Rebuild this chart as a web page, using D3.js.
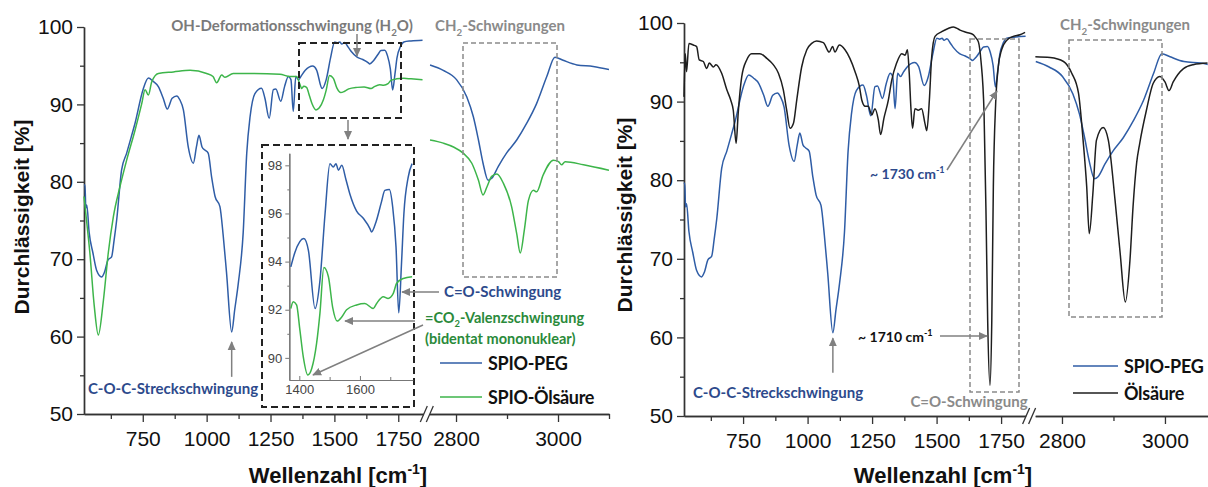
<!DOCTYPE html>
<html>
<head>
<meta charset="utf-8">
<script src="https://cdn.jsdelivr.net/npm/d3@7"></script>
<style>
  body { margin: 0; background: #fff; }
  svg { display: block; }
</style>
</head>
<body>
<svg id="chart" width="1208" height="487"></svg>
<script>
// --- data: [wavenumber cm-1, transmission %] ---
var spioPeg = [
  [520,79.6],[524,79.6],[527,76.6],[531,77.0],[540,73.5],[555,70.8],[570,68.5],[589,67.7],[600,68.3],
  [614,69.9],[628,70.3],[638,72.5],[648,75.1],[667,81.5],[687,83.7],[705,85.8],[720,87.6],[751,91.9],
  [772,93.4],[790,93.0],[811,92.3],[830,90.8],[846,89.4],[865,90.8],[883,91.1],[895,90.6],[909,89.3],
  [928,84.5],[948,82.4],[960,84.5],[970,86.0],[982,84.5],[993,84.1],[1006,83.7],[1020,80.5],[1033,78.1],
  [1052,76.8],[1065,73.0],[1078,68.2],[1098,60.6],[1110,63.5],[1124,66.9],[1143,73.4],[1157,83.7],
  [1170,88.4],[1189,91.4],[1215,92.1],[1228,90.8],[1245,88.2],[1261,91.9],[1271,92.0],[1290,90.4],
  [1305,92.3],[1320,93.6],[1330,93.2],[1339,89.1],[1349,93.6],[1360,93.2],[1372,93.78],[1386,94.4],
  [1415,94.96],[1430,94.47],[1452,92.05],[1468,93.2],[1485,96.0],[1501,98.07],[1512,97.93],[1521,98.07],
  [1529,97.8],[1540,98.0],[1554,97.4],[1567,96.8],[1589,96.1],[1611,95.8],[1633,95.37],[1638,95.23],
  [1653,95.65],[1671,96.48],[1682,96.96],[1697,97.0],[1708,96.27],[1719,94.6],[1728,91.87],[1737,93.9],
  [1745,96.0],[1759,97.5],[1772,98.07],[1800,98.2],[1845,98.3],
  [2749,95.1],[2775,94.4],[2801,93.2],[2821,91.0],[2834,88.4],[2844,85.4],[2853,82.4],[2863,80.2],
  [2870,80.45],[2883,82.0],[2899,83.7],[2919,85.4],[2939,87.6],[2958,90.1],[2978,93.6],[2994,96.1],
  [3010,95.7],[3037,95.1],[3069,94.9],[3100,94.5]
];

var spioOelsaeure = [
  [520,78.1],[530,75.0],[543,70.8],[560,64.0],[576,60.2],[596,64.7],[615,70.8],[635,75.5],[661,79.4],
  [687,82.8],[720,86.7],[746,90.1],[759,91.9],[772,91.2],[785,92.9],[811,94.0],[870,94.2],[935,94.4],
  [1000,94.0],[1025,93.6],[1039,92.8],[1059,93.8],[1072,93.5],[1104,94.0],[1183,94.0],[1287,93.9],
  [1326,93.6],[1352,93.6],[1365,92.6],[1372,92.05],[1380,92.33],[1391,92.2],[1402,91.15],[1413,90.05],
  [1428,89.29],[1441,89.56],[1457,90.6],[1468,91.85],[1481,93.75],[1496,93.37],[1510,92.1],[1525,91.53],
  [1540,91.7],[1556,92.0],[1589,92.2],[1616,92.26],[1644,92.05],[1655,92.26],[1677,92.54],[1693,92.47],
  [1710,92.68],[1721,93.1],[1743,93.3],[1772,93.37],[1800,93.3],[1845,93.2],
  [2749,85.4],[2775,85.0],[2795,84.5],[2814,83.7],[2831,82.4],[2844,80.2],[2853,78.3],[2861,79.4],
  [2870,80.7],[2880,81.0],[2893,79.8],[2909,76.8],[2919,73.3],[2926,70.8],[2934,73.8],[2942,77.6],
  [2952,78.9],[2958,78.7],[2971,80.9],[2991,82.8],[3001,82.6],[3007,82.2],[3014,82.6],[3050,82.2],
  [3100,81.5]
];

var oelsaeure = [
  [521,90.6],[526,96.1],[531,93.8],[540,97.4],[557,97.2],[570,97.0],[580,95.3],[596,95.1],[609,94.2],
  [619,94.9],[635,94.4],[645,94.7],[667,93.6],[687,91.5],[702,90.2],[712,88.9],[723,84.7],[731,88.5],
  [745,93.2],[764,95.3],[783,96.1],[815,96.1],[842,95.5],[867,94.7],[887,93.6],[906,91.5],[919,88.9],
  [932,86.6],[945,87.2],[958,90.2],[977,94.4],[997,96.6],[1016,97.4],[1035,97.7],[1061,97.5],[1084,96.3],
  [1097,97.0],[1106,96.3],[1123,97.2],[1145,96.6],[1164,95.5],[1184,93.8],[1201,91.9],[1210,90.2],
  [1223,89.4],[1235,89.4],[1249,88.3],[1261,89.1],[1274,87.7],[1283,85.8],[1296,87.9],[1313,90.2],
  [1326,92.7],[1345,94.9],[1365,96.1],[1378,95.9],[1387,96.6],[1394,93.6],[1401,88.9],[1407,86.6],
  [1416,89.1],[1429,88.9],[1442,89.1],[1455,87.2],[1462,86.3],[1472,90.2],[1481,95.7],[1494,98.3],
  [1520,98.9],[1545,99.3],[1565,99.5],[1591,99.1],[1617,98.8],[1643,98.5],[1650,98.2],[1662,97.6],
  [1672,95.2],[1684,88.5],[1692,74.9],[1698,62.2],[1707,53.9],[1714,62.2],[1720,79.2],[1729,89.8],
  [1739,94.4],[1752,96.6],[1772,97.8],[1797,98.3],[1823,98.5],[1843,98.8],
  [2748,95.7],[2777,95.6],[2803,95.1],[2819,93.6],[2832,91.1],[2841,85.1],[2848,79.2],[2853,73.2],
  [2860,78.3],[2867,85.1],[2880,86.7],[2890,85.1],[2903,77.5],[2913,70.7],[2923,64.5],[2932,69.8],
  [2938,76.6],[2945,82.2],[2951,84.7],[2964,88.9],[2977,92.3],[2990,93.2],[3000,92.5],[3008,91.4],
  [3016,92.5],[3036,94.2],[3055,94.7],[3083,94.9]
];

var yTicks = [50, 60, 70, 80, 90, 100];
var yMinor = [55, 65, 75, 85, 95];
var xTicksLow = [750, 1000, 1250, 1500, 1750];
var xMinorLow = [625, 875, 1125, 1375, 1625];
var xTicksHigh = [2800, 3000];
var xMinorHigh = [2900, 3100];
var insetYTicks = [90, 92, 94, 96, 98];
var insetYMinor = [91, 93, 95, 97];
var insetXTicks = [1400, 1600];
var insetXMinor = [1500, 1700];

var BLUE = "#2f5da6", GREEN = "#3db54a", BLACK = "#1e1e1e";
var TXT_BLUE = "#2d4a8c", TXT_GREEN = "#2a8a3a", GRAY = "#808080";
var AXIS_FONT = "'Liberation Sans', Arial, sans-serif";
var NOTE_FONT = "Lato, 'Open Sans', sans-serif";
var fmt = d3.format("d");

var svg = d3.select("#chart");

var defs = svg.append("defs");
defs.append("marker")
  .attr("id", "pfeil")
  .attr("viewBox", "0 0 10 10")
  .attr("refX", 9).attr("refY", 5)
  .attr("markerWidth", 9).attr("markerHeight", 9)
  .attr("markerUnits", "userSpaceOnUse")
  .attr("orient", "auto")
  .append("path")
  .attr("d", "M0,0.5 L10,5 L0,9.5 z")
  .attr("fill", GRAY);

// text with sub/superscript pieces
function richText(g, x, y, parts, size, color, anchor) {
  var t = g.append("text")
    .attr("x", x).attr("y", y)
    .attr("font-family", NOTE_FONT)
    .attr("font-weight", 700)
    .attr("font-size", size)
    .attr("fill", color)
    .attr("text-anchor", anchor || "start");
  var shift = 0;
  parts.forEach(function (p) {
    var span = t.append("tspan").text(p.t);
    var want = p.sub ? size * 0.3 : (p.sup ? -size * 0.4 : 0);
    if (want !== shift) { span.attr("dy", want - shift); shift = want; }
    if (p.sub || p.sup) span.attr("font-size", size * 0.65);
  });
  return t;
}

function pfeil(g, x1, y1, x2, y2) {
  g.append("line")
    .attr("x1", x1).attr("y1", y1).attr("x2", x2).attr("y2", y2)
    .attr("stroke", GRAY).attr("stroke-width", 1.5)
    .attr("marker-end", "url(#pfeil)");
}

function box(g, x, y, w, h, color, dash, width) {
  g.append("rect")
    .attr("x", x).attr("y", y).attr("width", w).attr("height", h)
    .attr("fill", "none").attr("stroke", color)
    .attr("stroke-width", width).attr("stroke-dasharray", dash);
}

function styleAxis(sel, fontSize) {
  sel.attr("font-family", AXIS_FONT);
  sel.select(".domain").attr("stroke", "#333").attr("stroke-width", 1.4);
  sel.selectAll(".tick line").attr("stroke", "#333").attr("stroke-width", 1.3);
  sel.selectAll(".tick text")
    .attr("font-family", AXIS_FONT)
    .attr("font-size", fontSize)
    .attr("fill", "#111");
}

function drawPanel(cfg) {
  var g = svg.append("g");
  var xLow = d3.scaleLinear().domain(cfg.lowDomain).range(cfg.lowRange);
  var xHigh = d3.scaleLinear().domain(cfg.highDomain).range(cfg.highRange);
  var y = d3.scaleLinear().domain([50, 100]).range(cfg.yRange);
  var baseY = cfg.yRange[0];
  var inDom = function (dom) { return function (v) { return v >= dom[0] && v <= dom[1]; }; };

  // x axis, low part
  var a1 = g.append("g").attr("transform", "translate(0," + baseY + ")")
    .call(d3.axisBottom(xLow).tickValues(xTicksLow).tickFormat(fmt).tickSize(8).tickSizeOuter(0).tickPadding(9));
  styleAxis(a1, 21);
  var m1 = g.append("g").attr("transform", "translate(0," + baseY + ")")
    .call(d3.axisBottom(xLow).tickValues(xMinorLow).tickSize(5).tickSizeOuter(0).tickFormat(""));
  styleAxis(m1, 21);

  // x axis, high part
  var a2 = g.append("g").attr("transform", "translate(0," + baseY + ")")
    .call(d3.axisBottom(xHigh).tickValues(xTicksHigh).tickFormat(fmt).tickSize(8).tickSizeOuter(0).tickPadding(9));
  styleAxis(a2, 21);
  var m2 = g.append("g").attr("transform", "translate(0," + baseY + ")")
    .call(d3.axisBottom(xHigh).tickValues(xMinorHigh.filter(inDom(cfg.highDomain))).tickSize(5).tickSizeOuter(0).tickFormat(""));
  styleAxis(m2, 21);

  // y axis
  var ay = g.append("g").attr("transform", "translate(" + cfg.lowRange[0] + ",0)")
    .call(d3.axisLeft(y).tickValues(yTicks).tickFormat(fmt).tickSize(7).tickSizeOuter(0).tickPadding(4));
  styleAxis(ay, 21);
  var my = g.append("g").attr("transform", "translate(" + cfg.lowRange[0] + ",0)")
    .call(d3.axisLeft(y).tickValues(yMinor).tickSize(4).tickSizeOuter(0).tickFormat(""));
  styleAxis(my, 21);

  // axis break marks
  var bx = cfg.lowRange[1];
  [0, 6].forEach(function (o) {
    g.append("line")
      .attr("x1", bx - 3 + o).attr("y1", baseY + 8)
      .attr("x2", bx + 4 + o).attr("y2", baseY - 8)
      .attr("stroke", "#333").attr("stroke-width", 1.3);
  });

  // clip for the high part
  var clipId = "clip" + cfg.name;
  defs.append("clipPath").attr("id", clipId)
    .append("rect")
    .attr("x", cfg.highRange[0]).attr("y", 0)
    .attr("width", cfg.highRange[1] - cfg.highRange[0]).attr("height", 487);

  cfg.series.forEach(function (s) {
    var low = s.data.filter(function (d) { return d[0] < 2000; });
    var high = s.data.filter(function (d) { return d[0] > 2000; });
    var lineLow = d3.line().x(function (d) { return xLow(d[0]); }).y(function (d) { return y(d[1]); })
      .curve(d3.curveMonotoneX);
    var lineHigh = d3.line().x(function (d) { return xHigh(d[0]); }).y(function (d) { return y(d[1]); })
      .curve(d3.curveMonotoneX);
    g.append("path").datum(low).attr("d", lineLow)
      .attr("fill", "none").attr("stroke", s.color).attr("stroke-width", 1.5);
    g.append("path").datum(high).attr("d", lineHigh)
      .attr("clip-path", "url(#" + clipId + ")")
      .attr("fill", "none").attr("stroke", s.color).attr("stroke-width", 1.5);
  });

  // axis titles
  g.append("text")
    .attr("transform", "translate(" + cfg.yTitleX + "," + cfg.yTitleY + ") rotate(-90)")
    .attr("text-anchor", "middle")
    .attr("font-family", AXIS_FONT).attr("font-weight", 700).attr("font-size", 21)
    .attr("fill", "#111")
    .text("Durchlässigkeit [%]");
  var xt = g.append("text")
    .attr("x", cfg.xTitleX).attr("y", 483)
    .attr("text-anchor", "middle")
    .attr("font-family", AXIS_FONT).attr("font-weight", 700).attr("font-size", 22)
    .attr("fill", "#111");
  xt.append("tspan").text("Wellenzahl [cm");
  xt.append("tspan").attr("dy", -9).attr("font-size", 14).text("-1");
  xt.append("tspan").attr("dy", 9).text("]");

  // legend
  cfg.series.forEach(function (s, i) {
    var ly = cfg.legendY[i];
    g.append("line")
      .attr("x1", cfg.legendX).attr("x2", cfg.legendX + cfg.legendLen)
      .attr("y1", ly).attr("y2", ly)
      .attr("stroke", s.color).attr("stroke-width", 1.5);
    g.append("text")
      .attr("x", cfg.legendX + cfg.legendLen + 6).attr("y", ly + 7)
      .attr("font-family", NOTE_FONT).attr("font-weight", 700).attr("font-size", 18)
      .attr("letter-spacing", -0.3)
      .attr("fill", "#111")
      .text(s.name);
  });

  return { g: g, xLow: xLow, xHigh: xHigh, y: y };
}

// ---------- left panel ----------
var left = drawPanel({
  name: "L",
  lowDomain: [520, 1848], lowRange: [84, 423.3],
  highDomain: [2748, 3100], highRange: [429.5, 609],
  yRange: [414, 27],
  yTitleX: 29, yTitleY: 217, xTitleX: 338,
  legendX: 440, legendLen: 42, legendY: [363, 397],
  series: [
    { name: "SPIO-PEG", data: spioPeg, color: BLUE },
    { name: "SPIO-Ölsäure", data: spioOelsaeure, color: GREEN }
  ]
});

var L = left.g;
// OH region box and inset frame
box(L, 299, 43, 102, 75, "#222", "7,4", 2);
box(L, 262, 145, 152, 262, "#222", "7,4", 2);
box(L, 463, 43, 94, 234, "#8a8a8a", "5,3", 1.5);

richText(L, 292, 31, [{ t: "OH-Deformationsschwingung (H" }, { t: "2", sub: true }, { t: "O)" }], 15, "#7a7a7a", "middle");
richText(L, 500, 31, [{ t: "CH" }, { t: "2", sub: true }, { t: "-Schwingungen" }], 15, "#8a8a8a", "middle");
pfeil(L, 357, 34, 357, 56);
pfeil(L, 348, 120, 348, 139);

richText(L, 173, 394, [{ t: "C-O-C-Streckschwingung" }], 15, TXT_BLUE, "middle");
pfeil(L, left.xLow(1098), left.y(54.8), left.xLow(1098), left.y(59.3));

// inset
var inX = d3.scaleLinear().domain([1367, 1774]).range([289.3, 412.7]);
var inY = d3.scaleLinear().domain([89.08, 98.5]).range([380, 153.3]);
var ix = L.append("g").attr("transform", "translate(0,380)")
  .call(d3.axisBottom(inX).tickValues(insetXTicks).tickFormat(fmt).tickSize(-4).tickSizeOuter(0).tickPadding(5));
var ixm = L.append("g").attr("transform", "translate(0,380)")
  .call(d3.axisBottom(inX).tickValues(insetXMinor).tickSize(-3).tickSizeOuter(0).tickFormat(""));
var iy = L.append("g").attr("transform", "translate(289.3,0)")
  .call(d3.axisLeft(inY).tickValues(insetYTicks).tickFormat(fmt).tickSize(4).tickSizeOuter(0).tickPadding(3));
var iym = L.append("g").attr("transform", "translate(289.3,0)")
  .call(d3.axisLeft(inY).tickValues(insetYMinor).tickSize(2).tickSizeOuter(0).tickFormat(""));
[ix, ixm, iy, iym].forEach(function (a) {
  a.select(".domain").attr("stroke", "#777").attr("stroke-width", 1.2);
  a.selectAll(".tick line").attr("stroke", "#777");
  a.selectAll(".tick text").attr("font-family", AXIS_FONT).attr("font-size", 13).attr("fill", "#444");
});
var inLine = d3.line().x(function (d) { return inX(d[0]); }).y(function (d) { return inY(d[1]); })
  .curve(d3.curveMonotoneX);
var inRange = function (d) { return d[0] >= 1367 && d[0] <= 1774; };
L.append("path").datum(spioPeg.filter(inRange)).attr("d", inLine)
  .attr("fill", "none").attr("stroke", BLUE).attr("stroke-width", 1.5);
L.append("path").datum(spioOelsaeure.filter(inRange)).attr("d", inLine)
  .attr("fill", "none").attr("stroke", GREEN).attr("stroke-width", 1.5);

richText(L, 444, 297, [{ t: "C=O-Schwingung" }], 15, TXT_BLUE, "start");
pfeil(L, 439, 292, 402, 292);
richText(L, 425, 323, [{ t: "=CO" }, { t: "2", sub: true }, { t: "-Valenzschwingung" }], 14.5, TXT_GREEN, "start");
richText(L, 425, 344, [{ t: "(bidentat mononuklear)" }], 14.5, TXT_GREEN, "start");
pfeil(L, 415, 321, 345, 321);
pfeil(L, 423, 325, 313, 375);

// ---------- right panel ----------
var right = drawPanel({
  name: "R",
  lowDomain: [521, 1845], lowRange: [684, 1025.6],
  highDomain: [2748, 3083], highRange: [1035.2, 1207.7],
  yRange: [416, 23],
  yTitleX: 632, yTitleY: 215, xTitleX: 943,
  legendX: 1073, legendLen: 45, legendY: [366, 393],
  series: [
    { name: "SPIO-PEG", data: spioPeg, color: BLUE },
    { name: "Ölsäure", data: oelsaeure, color: BLACK }
  ]
});

var R = right.g;
box(R, 970, 39, 49, 353, "#8a8a8a", "5,3", 1.5);
box(R, 1069, 40, 93, 277, "#8a8a8a", "5,3", 1.5);
richText(R, 1125, 30, [{ t: "CH" }, { t: "2", sub: true }, { t: "-Schwingungen" }], 15, "#8a8a8a", "middle");
richText(R, 969, 407, [{ t: "C=O-Schwingung" }], 15, "#8a8a8a", "middle");

richText(R, 778, 398, [{ t: "C-O-C-Streckschwingung" }], 15, TXT_BLUE, "middle");
pfeil(R, right.xLow(1098), right.y(55.5), right.xLow(1098), right.y(59.9));

richText(R, 870, 179, [{ t: "~ 1730 cm" }, { t: "-1", sup: true }], 14, TXT_BLUE, "start");
pfeil(R, 947, 170, 997, 91);
richText(R, 858, 342, [{ t: "~ 1710 cm" }, { t: "-1", sup: true }], 14, "#111", "start");
pfeil(R, 940, 336, 987, 336);
</script>
</body>
</html>
